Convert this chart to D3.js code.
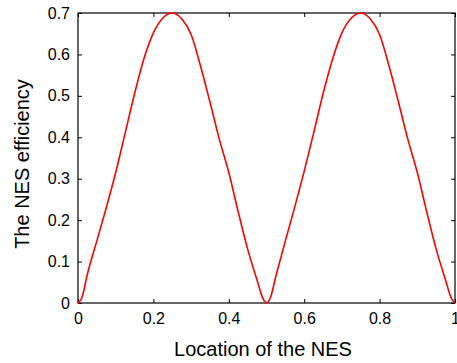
<!DOCTYPE html>
<html>
<head>
<meta charset="utf-8">
<script src="https://cdn.jsdelivr.net/npm/d3@7"></script>
<style>
  body { margin: 0; background: #fff; }
  text { font-family: "Liberation Sans", Arial, sans-serif; fill: #000; }
</style>
</head>
<body>
<div id="chart"></div>
<script>
// location along the structure vs efficiency
var locations = [0, 0.01, 0.025, 0.05, 0.075, 0.1, 0.125, 0.15, 0.175, 0.2, 0.225, 0.25,
  0.275, 0.3, 0.325, 0.35, 0.375, 0.4, 0.425, 0.45, 0.475, 0.49, 0.5,
  0.51, 0.525, 0.55, 0.575, 0.6, 0.625, 0.65, 0.675, 0.7, 0.725, 0.75,
  0.775, 0.8, 0.825, 0.85, 0.875, 0.9, 0.925, 0.95, 0.975, 0.99, 1];
var efficiency = [0, 0.012, 0.07, 0.15, 0.23, 0.315, 0.41, 0.505, 0.59, 0.652, 0.688, 0.70,
  0.686, 0.648, 0.572, 0.485, 0.395, 0.315, 0.22, 0.13, 0.055, 0.012, 0,
  0.012, 0.065, 0.15, 0.232, 0.318, 0.41, 0.505, 0.588, 0.652, 0.688, 0.70,
  0.686, 0.648, 0.572, 0.485, 0.395, 0.315, 0.22, 0.13, 0.055, 0.012, 0];
var xTicks = [0, 0.2, 0.4, 0.6, 0.8, 1];
var yTicks = [0, 0.1, 0.2, 0.3, 0.4, 0.5, 0.6, 0.7];

var margin = {top: 13, right: 2, bottom: 60, left: 78};
var W = 457, H = 363;
var width = W - margin.left - margin.right;
var height = H - margin.top - margin.bottom;

var x = d3.scaleLinear().domain([0, 1]).range([0, width]);
var y = d3.scaleLinear().domain([0, 0.7]).range([height, 0]);

var svg = d3.select("#chart").append("svg")
  .attr("width", W).attr("height", H);
var g = svg.append("g")
  .attr("transform", "translate(" + margin.left + "," + margin.top + ")");

var fmt = function(d) { return d === 0 || d === 1 ? String(d) : d3.format(".1f")(d); };

// axes - ticks point inward, like matlab
function styleAxis(sel) {
  sel.select(".domain").remove();
  sel.selectAll(".tick line").attr("stroke", "#000");
  sel.selectAll("text").style("font-size", "16px");
}
g.append("g").attr("transform", "translate(0," + height + ")")
  .call(d3.axisBottom(x).tickValues(xTicks).tickSize(-4).tickPadding(10).tickFormat(fmt))
  .call(styleAxis);
g.append("g")
  .call(d3.axisTop(x).tickValues(xTicks).tickSize(-4).tickFormat(""))
  .call(styleAxis);
g.append("g")
  .call(d3.axisLeft(y).tickValues(yTicks).tickSize(-4).tickPadding(8).tickFormat(fmt))
  .call(styleAxis);
g.append("g").attr("transform", "translate(" + width + ",0)")
  .call(d3.axisRight(y).tickValues(yTicks).tickSize(-4).tickFormat(""))
  .call(styleAxis);

g.append("rect")
  .attr("width", width).attr("height", height)
  .attr("fill", "none").attr("stroke", "#000").attr("stroke-width", 1.2);

var points = locations.map(function(d, i) { return [d, efficiency[i]]; });
var valueline = d3.line()
  .x(function(d) { return x(d[0]); })
  .y(function(d) { return y(d[1]); })
  .curve(d3.curveMonotoneX);
g.append("path")
  .datum(points)
  .attr("fill", "none")
  .attr("stroke", "#ff0000")
  .attr("stroke-width", 1.6)
  .attr("d", valueline);

svg.append("text")
  .attr("x", 263).attr("y", 356)
  .attr("text-anchor", "middle").style("font-size", "20px")
  .text("Location of the NES");
svg.append("text")
  .attr("transform", "translate(29,164) rotate(-90)")
  .attr("text-anchor", "middle").style("font-size", "20px")
  .text("The NES efficiency");
</script>
</body>
</html>
